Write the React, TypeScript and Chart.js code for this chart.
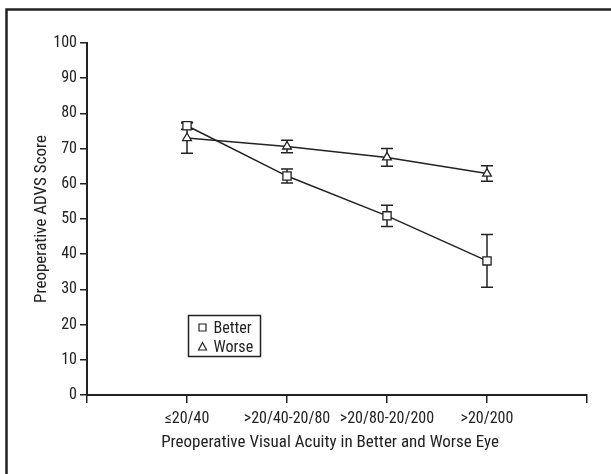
import React, { useEffect, useRef } from 'react';
import { Chart, registerables } from 'chart.js';

Chart.register(...registerables);

// ---- data ----
const categories = ['≤20/40', '>20/40-20/80', '>20/80-20/200', '>20/200'];
const seriesLabels = ['Better', 'Worse'];
const betterMeans = [76.5, 62.2, 50.9, 38.1];
const betterErrors = [1.0, 2.0, 3.0, 7.5];
const worseMeans = [73.0, 70.6, 67.5, 62.9];
const worseErrors = [4.3, 1.8, 2.5, 2.2];
const yTickValues = [0, 10, 20, 30, 40, 50, 60, 70, 80, 90, 100];
const xTitle = 'Preoperative Visual Acuity in Better and Worse Eye';
const yTitle = 'Preoperative ADVS Score';

const FONT = '"Roboto Condensed", "DejaVu Sans Condensed", sans-serif';
const INK = '#222222';
const W = 611;
const H = 474;

const errorSets = [betterErrors, worseErrors];

const framePlugin = {
  id: 'frame',
  beforeDraw(chart: any) {
    const ctx = chart.ctx;
    ctx.save();
    ctx.fillStyle = '#ffffff';
    ctx.fillRect(0, 0, chart.width, chart.height);
    ctx.strokeStyle = INK;
    ctx.lineWidth = 2.5;
    ctx.strokeRect(6.5, 9.5, chart.width + 20, chart.height + 20);
    ctx.restore();
  },
};

const errorBarPlugin = {
  id: 'errorBars',
  beforeDatasetsDraw(chart: any) {
    const ctx = chart.ctx;
    const xs = chart.scales.x;
    const ys = chart.scales.y;
    ctx.save();
    ctx.strokeStyle = INK;
    ctx.lineWidth = 1.5;
    chart.data.datasets.forEach((ds: any, di: number) => {
      const errs = errorSets[di];
      ds.data.forEach((p: any, i: number) => {
        const px = xs.getPixelForValue(p.x);
        const top = ys.getPixelForValue(p.y + errs[i]);
        const bot = ys.getPixelForValue(p.y - errs[i]);
        ctx.beginPath();
        ctx.moveTo(px, top);
        ctx.lineTo(px, bot);
        ctx.moveTo(px - 6, top);
        ctx.lineTo(px + 6, top);
        ctx.moveTo(px - 6, bot);
        ctx.lineTo(px + 6, bot);
        ctx.stroke();
      });
    });
    ctx.restore();
  },
};

const legendBoxPlugin = {
  id: 'legendBox',
  afterDraw(chart: any) {
    const ctx = chart.ctx;
    const bx = 188.5, by = 315.5, bw = 72, bh = 41;
    ctx.save();
    ctx.fillStyle = '#ffffff';
    ctx.fillRect(bx, by, bw, bh);
    ctx.strokeStyle = INK;
    ctx.lineWidth = 1.5;
    ctx.strokeRect(bx, by, bw, bh);
    chart.data.datasets.forEach((ds: any, i: number) => {
      const cx = bx + 14;
      const cy = by + 12 + i * 19;
      ctx.lineWidth = 1.2;
      ctx.strokeStyle = INK;
      ctx.beginPath();
      if (ds.pointStyle === 'rect') {
        ctx.rect(cx - 3.5, cy - 3.5, 7, 7);
      } else {
        ctx.moveTo(cx, cy - 4);
        ctx.lineTo(cx + 4, cy + 3.5);
        ctx.lineTo(cx - 4, cy + 3.5);
        ctx.closePath();
      }
      ctx.stroke();
      ctx.fillStyle = INK;
      ctx.font = `16px ${FONT}`;
      ctx.textAlign = 'left';
      ctx.textBaseline = 'middle';
      ctx.fillText(ds.label, cx + 11, cy + 1);
    });
    ctx.restore();
  },
};

const xTitlePlugin = {
  id: 'xTitleText',
  afterDraw(chart: any) {
    const ctx = chart.ctx;
    ctx.save();
    ctx.fillStyle = INK;
    ctx.font = `17px ${FONT}`;
    ctx.textAlign = 'center';
    ctx.textBaseline = 'middle';
    ctx.fillText(xTitle, 330, 443);
    ctx.restore();
  },
};

export default function App() {
  const canvasRef = useRef<HTMLCanvasElement | null>(null);

  useEffect(() => {
    document.body.style.margin = '0';
    const canvas = canvasRef.current;
    if (!canvas) return;

    const toPoints = (vals: number[]) => vals.map((v, i) => ({ x: i + 1, y: v }));

    const chart = new Chart(canvas, {
      type: 'line',
      data: {
        datasets: [
          {
            label: seriesLabels[0],
            data: toPoints(betterMeans),
            borderColor: INK,
            borderWidth: 1.5,
            pointStyle: 'rect',
            pointRadius: 5.8,
            pointBorderWidth: 1.3,
            pointBackgroundColor: '#ffffff',
            pointBorderColor: INK,
            tension: 0,
            fill: false,
          },
          {
            label: seriesLabels[1],
            data: toPoints(worseMeans),
            borderColor: INK,
            borderWidth: 1.5,
            pointStyle: 'triangle',
            pointRadius: 5,
            pointBorderWidth: 1.3,
            pointBackgroundColor: '#ffffff',
            pointBorderColor: INK,
            tension: 0,
            fill: false,
          },
        ],
      },
      options: {
        responsive: false,
        animation: false,
        events: [],
        layout: { padding: { left: 0, top: 43, right: 24, bottom: 0 } },
        plugins: {
          legend: { display: false },
          tooltip: { enabled: false },
        },
        scales: {
          x: {
            type: 'linear',
            min: 0,
            max: categories.length + 1,
            afterFit: (s: any) => { s.height = H - 395; },
            afterBuildTicks: (s: any) => {
              const t = [];
              for (let i = 0; i <= categories.length + 1; i++) t.push({ value: i });
              s.ticks = t;
            },
            ticks: {
              autoSkip: false,
              maxRotation: 0,
              minRotation: 0,
              padding: 6,
              color: INK,
              font: { family: FONT, size: 16 },
              callback: (v: any) => categories[Number(v) - 1] ?? '',
            },
            grid: {
              drawOnChartArea: false,
              drawTicks: true,
              tickLength: 8,
              color: INK,
              lineWidth: 1.5,
            },
            border: { display: true, color: INK, width: 2 },
          },
          y: {
            type: 'linear',
            min: 0,
            max: 100,
            afterFit: (s: any) => { s.width = 87; },
            afterBuildTicks: (s: any) => {
              s.ticks = yTickValues.map((v) => ({ value: v }));
            },
            ticks: {
              padding: 3,
              color: INK,
              font: { family: FONT, size: 16 },
            },
            grid: {
              drawOnChartArea: false,
              drawTicks: true,
              tickLength: 7,
              color: INK,
              lineWidth: 1.5,
            },
            border: { display: true, color: INK, width: 2 },
            title: {
              display: true,
              text: yTitle,
              color: INK,
              font: { family: FONT, size: 17 },
              padding: { top: 32, bottom: 0 },
            },
          },
        },
      },
      plugins: [framePlugin, errorBarPlugin, legendBoxPlugin, xTitlePlugin],
    } as any);

    return () => chart.destroy();
  }, []);

  return (
    <div style={{ position: 'fixed', left: 0, top: 0, width: W, height: H, background: '#fff' }}>
      <canvas ref={canvasRef} width={W} height={H} style={{ display: 'block', width: W, height: H }} />
    </div>
  );
}
